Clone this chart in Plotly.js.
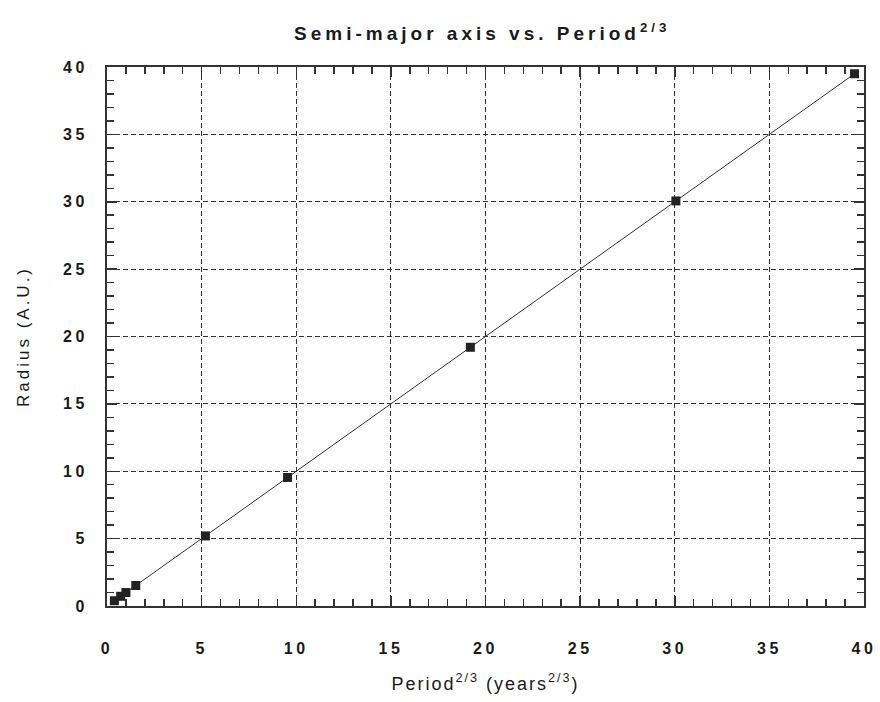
<!DOCTYPE html>
<html>
<head>
<meta charset="utf-8">
<script src="https://cdn.plot.ly/plotly-3.0.1.min.js"></script>
<style>
  html, body { margin: 0; padding: 0; background: #fff; }
  #chart { width: 880px; height: 702px; }
  #chart .gtitle { letter-spacing: 4px; }
  #chart .xtick text, #chart .ytick text { letter-spacing: 3.5px; }
  #chart .xtitle { letter-spacing: 2px; }
  #chart .ytitle { letter-spacing: 3px; }
</style>
</head>
<body>
<div id="chart"></div>
<script>
// Planet data: Period^(2/3) (years^(2/3)) vs semi-major axis (A.U.)
const planets = ["Mercury", "Venus", "Earth", "Mars", "Jupiter", "Saturn", "Uranus", "Neptune", "Pluto"];
const periodTwoThirds = [0.39, 0.72, 1.0, 1.52, 5.2, 9.54, 19.2, 30.06, 39.5];
const radiusAU = [0.39, 0.72, 1.0, 1.52, 5.2, 9.54, 19.2, 30.06, 39.5];
const tickVals = [0, 5, 10, 15, 20, 25, 30, 35, 40];

const font = "Liberation Sans, Arial, Helvetica, sans-serif";

const trace = {
  x: periodTwoThirds,
  y: radiusAU,
  text: planets,
  mode: "lines+markers",
  type: "scatter",
  line: { color: "#333333", width: 1 },
  marker: { symbol: "square", size: 9, color: "#222222" },
  hoverinfo: "text+x+y",
  cliponaxis: false
};

const axisCommon = {
  range: [0, 40],
  tickvals: tickVals,
  ticks: "inside",
  ticklen: 10,
  tickwidth: 1.5,
  tickcolor: "#333333",
  showline: true,
  linecolor: "#333333",
  linewidth: 2,
  mirror: "allticks",
  showgrid: true,
  gridcolor: "#333333",
  gridwidth: 1,
  griddash: "5px,3px",
  zeroline: false,
  tickfont: { family: font, size: 16, color: "#1a1a1a", weight: "bold" },
  minor: { dtick: 1, ticks: "inside", ticklen: 7, tickwidth: 1.5, tickcolor: "#333333", showgrid: false }
};

const layout = {
  width: 880,
  height: 702,
  margin: { l: 107, r: 16, t: 67, b: 96 },
  paper_bgcolor: "#ffffff",
  plot_bgcolor: "#ffffff",
  showlegend: false,
  title: {
    text: "<b>Semi-major axis vs. Period<sup>2/3</sup></b>",
    font: { family: font, size: 19, color: "#1a1a1a" },
    x: 0.548, xanchor: "center",
    y: 0.953, yanchor: "middle"
  },
  xaxis: Object.assign({}, axisCommon, {
    ticklabelstandoff: 27,
    title: {
      text: "Period<sup>2/3</sup> (years<sup>2/3</sup>)",
      font: { family: font, size: 18, color: "#1a1a1a" },
      standoff: 21
    }
  }),
  yaxis: Object.assign({}, axisCommon, {
    ticklabelstandoff: 14,
    title: {
      text: "Radius (A.U.)",
      font: { family: font, size: 17, color: "#1a1a1a" },
      standoff: 36
    }
  })
};

Plotly.newPlot("chart", [trace], layout, { displayModeBar: false, staticPlot: true });
</script>
</body>
</html>
